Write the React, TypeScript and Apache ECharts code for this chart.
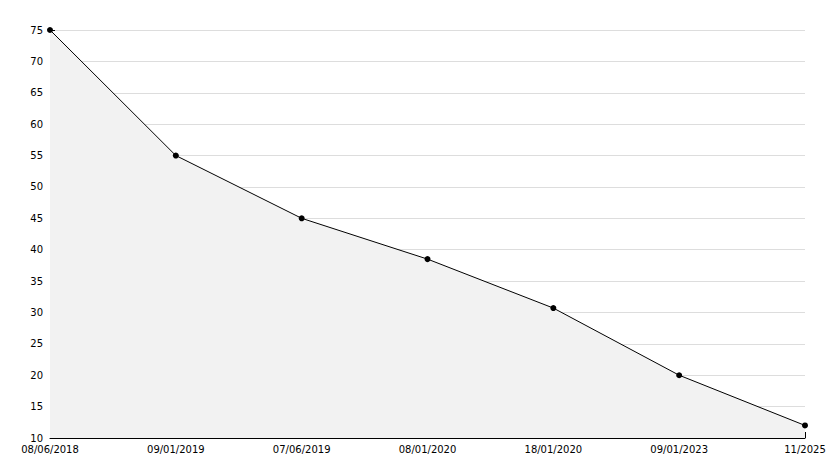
import React, { useEffect, useRef } from "react";
import * as echarts from "echarts";

const categories = ["08/06/2018", "09/01/2019", "07/06/2019", "08/01/2020", "18/01/2020", "09/01/2023", "11/2025"];
const values = [75, 55, 45, 38.5, 30.7, 20, 12];

export default function App() {
  const ref = useRef<HTMLDivElement>(null);
  useEffect(() => {
    if (!ref.current) return;
    const chart = echarts.init(ref.current, null, { renderer: "svg" });
    chart.setOption({
      animation: false,
      backgroundColor: "#ffffff",
      grid: { left: 50, right: 29, top: 30, bottom: 30, containLabel: false },
      xAxis: {
        type: "category",
        data: categories,
        boundaryGap: false,
        axisLine: { lineStyle: { color: "#000", width: 1 } },
        axisTick: { show: true, inside: true, length: 6, lineStyle: { color: "#000" } },
        axisLabel: { color: "#000", fontFamily: "DejaVu Sans", fontSize: 10, margin: 6, interval: 0 },
        splitLine: { show: false },
      },
      yAxis: {
        type: "value",
        min: 10,
        max: 75,
        interval: 5,
        axisLine: { show: true, lineStyle: { color: "#000", width: 1 } },
        axisTick: { show: true, inside: true, length: 5, lineStyle: { color: "#000" } },
        minorTick: { show: true, splitNumber: 5, length: 3, lineStyle: { color: "#000" } },
        axisLabel: { color: "#000", fontFamily: "DejaVu Sans", fontSize: 10, margin: 7 },
        splitLine: { show: true, lineStyle: { color: "#dddddd", width: 1 } },
      },
      series: [
        {
          type: "line",
          data: values,
          symbol: "circle",
          symbolSize: 6,
          itemStyle: { color: "#000" },
          lineStyle: { color: "#000", width: 1 },
          areaStyle: { color: "#f2f2f2", opacity: 1 },
        },
      ],
    });
    return () => chart.dispose();
  }, []);
  return <div ref={ref} style={{ width: 834, height: 468, position: "absolute", left: 0, top: 0 }} />;
}
